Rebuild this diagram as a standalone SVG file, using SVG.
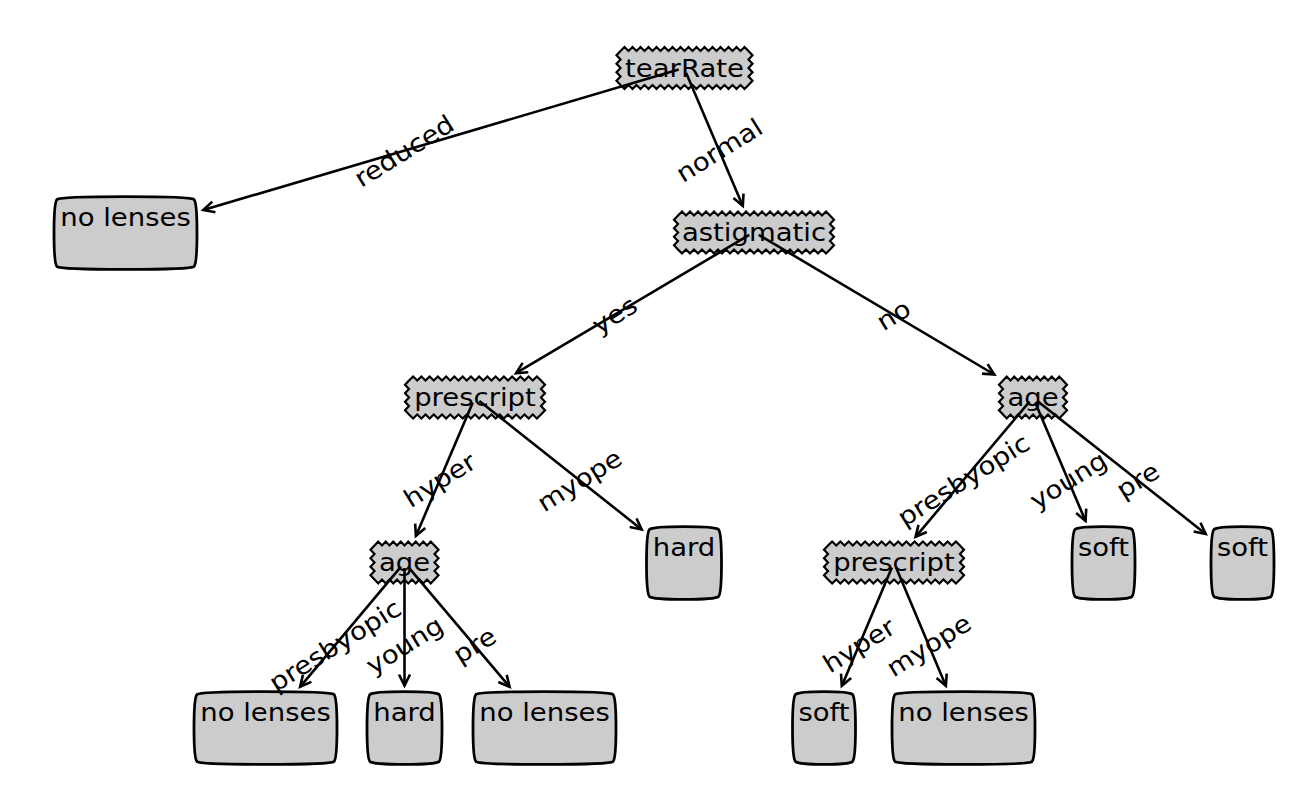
<svg xmlns="http://www.w3.org/2000/svg" xmlns:xlink="http://www.w3.org/1999/xlink" width="1308" height="795" viewBox="0 0 1308 795">
<style>
  text { font-family: "DejaVu Sans", "Liberation Sans", sans-serif; font-size: 25px; fill: #000; }
  .dec { fill: #cccccc; stroke: #000; stroke-width: 2.2; stroke-linejoin: miter; }
  .leaf { fill: #cccccc; stroke: #000; stroke-width: 2.8; }
  .edge { stroke: #000; stroke-width: 2.6; fill: none; marker-end: url(#ah); }
  .c { text-anchor: middle; }
</style>
<defs>
  <marker id="ah" markerUnits="userSpaceOnUse" markerWidth="30" markerHeight="30" viewBox="-15 -15 30 30" refX="0" refY="0" orient="auto" overflow="visible">
    <path d="M-11,-5.5 L0,0 L-11,5.5" fill="none" stroke="#000" stroke-width="2.6"/>
  </marker>
  <path id="sawTear" d="M-64,-17 l4,-4 4,4 4,-4 4,4 4,-4 4,4 4,-4 4,4 4,-4 4,4 4,-4 4,4 4,-4 4,4 4,-4 4,4 4,-4 4,4 4,-4 4,4 4,-4 4,4 4,-4 4,4 4,-4 4,4 4,-4 4,4 4,-4 4,4 4,-4 4,4 4,4.25 -4,4.25 4,4.25 -4,4.25 4,4.25 -4,4.25 4,4.25 -4,4.25 -4,4 -4,-4 -4,4 -4,-4 -4,4 -4,-4 -4,4 -4,-4 -4,4 -4,-4 -4,4 -4,-4 -4,4 -4,-4 -4,4 -4,-4 -4,4 -4,-4 -4,4 -4,-4 -4,4 -4,-4 -4,4 -4,-4 -4,4 -4,-4 -4,4 -4,-4 -4,4 -4,-4 -4,4 -4,-4 -4,-4.25 4,-4.25 -4,-4.25 4,-4.25 -4,-4.25 4,-4.25 -4,-4.25 4,-4.25 z"/>
  <path id="sawAst" d="M-76,-17 l4,-4 4,4 4,-4 4,4 4,-4 4,4 4,-4 4,4 4,-4 4,4 4,-4 4,4 4,-4 4,4 4,-4 4,4 4,-4 4,4 4,-4 4,4 4,-4 4,4 4,-4 4,4 4,-4 4,4 4,-4 4,4 4,-4 4,4 4,-4 4,4 4,-4 4,4 4,-4 4,4 4,-4 4,4 4,4.25 -4,4.25 4,4.25 -4,4.25 4,4.25 -4,4.25 4,4.25 -4,4.25 -4,4 -4,-4 -4,4 -4,-4 -4,4 -4,-4 -4,4 -4,-4 -4,4 -4,-4 -4,4 -4,-4 -4,4 -4,-4 -4,4 -4,-4 -4,4 -4,-4 -4,4 -4,-4 -4,4 -4,-4 -4,4 -4,-4 -4,4 -4,-4 -4,4 -4,-4 -4,4 -4,-4 -4,4 -4,-4 -4,4 -4,-4 -4,4 -4,-4 -4,4 -4,-4 -4,-4.25 4,-4.25 -4,-4.25 4,-4.25 -4,-4.25 4,-4.25 -4,-4.25 4,-4.25 z"/>
  <path id="sawPre" d="M-66,-17 l4.125,-4 4.125,4 4.125,-4 4.125,4 4.125,-4 4.125,4 4.125,-4 4.125,4 4.125,-4 4.125,4 4.125,-4 4.125,4 4.125,-4 4.125,4 4.125,-4 4.125,4 4.125,-4 4.125,4 4.125,-4 4.125,4 4.125,-4 4.125,4 4.125,-4 4.125,4 4.125,-4 4.125,4 4.125,-4 4.125,4 4.125,-4 4.125,4 4.125,-4 4.125,4 4,4.25 -4,4.25 4,4.25 -4,4.25 4,4.25 -4,4.25 4,4.25 -4,4.25 -4.125,4 -4.125,-4 -4.125,4 -4.125,-4 -4.125,4 -4.125,-4 -4.125,4 -4.125,-4 -4.125,4 -4.125,-4 -4.125,4 -4.125,-4 -4.125,4 -4.125,-4 -4.125,4 -4.125,-4 -4.125,4 -4.125,-4 -4.125,4 -4.125,-4 -4.125,4 -4.125,-4 -4.125,4 -4.125,-4 -4.125,4 -4.125,-4 -4.125,4 -4.125,-4 -4.125,4 -4.125,-4 -4.125,4 -4.125,-4 -4,-4.25 4,-4.25 -4,-4.25 4,-4.25 -4,-4.25 4,-4.25 -4,-4.25 4,-4.25 z"/>
  <path id="sawAge" d="M-30,-17 l3.75,-4 3.75,4 3.75,-4 3.75,4 3.75,-4 3.75,4 3.75,-4 3.75,4 3.75,-4 3.75,4 3.75,-4 3.75,4 3.75,-4 3.75,4 3.75,-4 3.75,4 4,4.25 -4,4.25 4,4.25 -4,4.25 4,4.25 -4,4.25 4,4.25 -4,4.25 -3.75,4 -3.75,-4 -3.75,4 -3.75,-4 -3.75,4 -3.75,-4 -3.75,4 -3.75,-4 -3.75,4 -3.75,-4 -3.75,4 -3.75,-4 -3.75,4 -3.75,-4 -3.75,4 -3.75,-4 -4,-4.25 4,-4.25 -4,-4.25 4,-4.25 -4,-4.25 4,-4.25 -4,-4.25 4,-4.25 z"/>
  <path id="leafNL" d="M-68.5,-33.6 C-64,-37.3 64,-37.3 68.5,-33.6 C72.5,-29.6 72.5,29.6 68.5,33.6 C64,37.3 -64,37.3 -68.5,33.6 C-72.5,29.6 -72.5,-29.6 -68.5,-33.6 Z"/>
  <path id="leafHard" d="M-34.5,-33.6 C-30,-37.3 30,-37.3 34.5,-33.6 C38.5,-29.6 38.5,29.6 34.5,33.6 C30,37.3 -30,37.3 -34.5,33.6 C-38.5,29.6 -38.5,-29.6 -34.5,-33.6 Z"/>
  <path id="leafSoft" d="M-28.5,-33.6 C-24,-37.3 24,-37.3 28.5,-33.6 C32.5,-29.6 32.5,29.6 28.5,33.6 C24,37.3 -24,37.3 -28.5,33.6 C-32.5,29.6 -32.5,-29.6 -28.5,-33.6 Z"/>
</defs>

<g id="node-tearRate"><use href="#sawTear" class="dec" transform="translate(684.5,68)"/><text class="c" transform="translate(684.5,76.5) scale(1.1,1)">tearRate</text></g>
<g id="node-astigmatic"><use href="#sawAst" class="dec" transform="translate(754,232.5)"/><text class="c" transform="translate(754,241) scale(1.1,1)">astigmatic</text></g>
<g id="node-prescript-1"><use href="#sawPre" class="dec" transform="translate(475,397.5)"/><text class="c" transform="translate(475,406) scale(1.1,1)">prescript</text></g>
<g id="node-age-1"><use href="#sawAge" class="dec" transform="translate(1033,397.5)"/><text class="c" transform="translate(1033,406) scale(1.1,1)">age</text></g>
<g id="node-age-2"><use href="#sawAge" class="dec" transform="translate(404.5,562.5)"/><text class="c" transform="translate(404.5,571) scale(1.1,1)">age</text></g>
<g id="node-prescript-2"><use href="#sawPre" class="dec" transform="translate(894,562.5)"/><text class="c" transform="translate(894,571) scale(1.1,1)">prescript</text></g>

<g id="leaf-nolenses-1"><use href="#leafNL" class="leaf" transform="translate(125.5,233)"/><text class="c" transform="translate(125.5,225.5) scale(1.1,1)">no lenses</text></g>
<g id="leaf-hard-1"><use href="#leafHard" class="leaf" transform="translate(684,563)"/><text class="c" transform="translate(684,555.5) scale(1.1,1)">hard</text></g>
<g id="leaf-soft-1"><use href="#leafSoft" class="leaf" transform="translate(1103.5,563)"/><text class="c" transform="translate(1103.5,555.5) scale(1.1,1)">soft</text></g>
<g id="leaf-soft-2"><use href="#leafSoft" class="leaf" transform="translate(1242.5,563)"/><text class="c" transform="translate(1242.5,555.5) scale(1.1,1)">soft</text></g>
<g id="leaf-nolenses-2"><use href="#leafNL" class="leaf" transform="translate(265.5,728)"/><text class="c" transform="translate(265.5,720.5) scale(1.1,1)">no lenses</text></g>
<g id="leaf-hard-2"><use href="#leafHard" class="leaf" transform="translate(404.5,728)"/><text class="c" transform="translate(404.5,720.5) scale(1.1,1)">hard</text></g>
<g id="leaf-nolenses-3"><use href="#leafNL" class="leaf" transform="translate(544.5,728)"/><text class="c" transform="translate(544.5,720.5) scale(1.1,1)">no lenses</text></g>
<g id="leaf-soft-3"><use href="#leafSoft" class="leaf" transform="translate(824,728)"/><text class="c" transform="translate(824,720.5) scale(1.1,1)">soft</text></g>
<g id="leaf-nolenses-4"><use href="#leafNL" class="leaf" transform="translate(963.5,728)"/><text class="c" transform="translate(963.5,720.5) scale(1.1,1)">no lenses</text></g>

<g id="connectors">
  <line class="edge" x1="678.7" y1="69.6" x2="203.3" y2="210"/>
  <line class="edge" x1="686.2" y1="73.1" x2="742.8" y2="205.9"/>
  <line class="edge" x1="749.3" y1="234.8" x2="516" y2="373.2"/>
  <line class="edge" x1="758.7" y1="234.8" x2="994.3" y2="374.5"/>
  <line class="edge" x1="472.8" y1="402.6" x2="415.9" y2="535.9"/>
  <line class="edge" x1="479.3" y1="400.9" x2="641.7" y2="529.5"/>
  <line class="edge" x1="1029.5" y1="401.7" x2="915.6" y2="536.8"/>
  <line class="edge" x1="1035.2" y1="402.6" x2="1085.5" y2="520.9"/>
  <line class="edge" x1="1037.3" y1="400.9" x2="1205.7" y2="533.9"/>
  <line class="edge" x1="401" y1="566.7" x2="300.1" y2="686.8"/>
  <line class="edge" x1="404.5" y1="568" x2="404.5" y2="685.5"/>
  <line class="edge" x1="408" y1="566.7" x2="509.6" y2="686.8"/>
  <line class="edge" x1="891.9" y1="567.6" x2="841.8" y2="685.9"/>
  <line class="edge" x1="896.1" y1="567.6" x2="945.9" y2="685.9"/>
  <g id="edge-labels">
    <text class="c" dy="0.35em" transform="translate(404,151) rotate(-32) scale(1.1,1)">reduced</text>
    <text class="c" dy="0.35em" transform="translate(719.25,150.25) rotate(-32) scale(1.1,1)">normal</text>
    <text class="c" dy="0.35em" transform="translate(614.5,315) rotate(-32) scale(1.1,1)">yes</text>
    <text class="c" dy="0.35em" transform="translate(893.5,315) rotate(-32) scale(1.1,1)">no</text>
    <text class="c" dy="0.35em" transform="translate(439.75,480) rotate(-32) scale(1.1,1)">hyper</text>
    <text class="c" dy="0.35em" transform="translate(579.5,480.25) rotate(-32) scale(1.1,1)">myope</text>
    <text class="c" dy="0.35em" transform="translate(963.5,480) rotate(-32) scale(1.1,1)">presbyopic</text>
    <text class="c" dy="0.35em" transform="translate(1068.25,480.25) rotate(-32) scale(1.1,1)">young</text>
    <text class="c" dy="0.35em" transform="translate(1137.75,480.25) rotate(-32) scale(1.1,1)">pre</text>
    <text class="c" dy="0.35em" transform="translate(335,645.25) rotate(-32) scale(1.1,1)">presbyopic</text>
    <text class="c" dy="0.35em" transform="translate(404.5,645.25) rotate(-32) scale(1.1,1)">young</text>
    <text class="c" dy="0.35em" transform="translate(474.5,645.25) rotate(-32) scale(1.1,1)">pre</text>
    <text class="c" dy="0.35em" transform="translate(859,645.25) rotate(-32) scale(1.1,1)">hyper</text>
    <text class="c" dy="0.35em" transform="translate(928.75,645.25) rotate(-32) scale(1.1,1)">myope</text>
  </g>
</g>
</svg>
